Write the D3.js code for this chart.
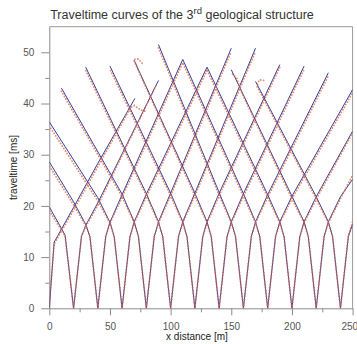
<!DOCTYPE html>
<html>
<head>
<meta charset="utf-8">
<script src="https://cdn.jsdelivr.net/npm/d3@7"></script>
<style>
  body { margin: 0; background: #fff; }
  svg { display: block; font-family: "Liberation Sans", Arial, sans-serif; }
  .axis path, .axis line { stroke: #8c8c8c; }
  .axis text { fill: #555; font-size: 10px; }
</style>
</head>
<body>
<div id="chart"></div>
<script>
// shot positions [m]
var shots = [0, 20, 40, 60, 80, 100, 120, 140, 160, 180, 200, 220, 240];

// computed traveltimes (blue), [x m, t ms] vertices, one list per shot
var modelLeft = [
  [[0, 0]],
  [[20, 0], [13, 14.3], [10, 15.6], [0, 19.8]],
  [[40, 0], [33.5, 14], [30, 16.4], [20, 20.8], [0, 28.6]],
  [[60, 0], [53.5, 14], [50, 16.8], [40, 21.6], [0, 36.4]],
  [[80, 0], [73.5, 14], [70, 16.9], [60, 22.3], [10, 43.0]],
  [[100, 0], [93.5, 14], [90, 16.9], [80, 22.4], [30, 47.1]],
  [[120, 0], [113.5, 14], [110, 16.9], [100, 22.5], [50, 47.3]],
  [[140, 0], [133.5, 14], [130, 16.9], [120, 22.5], [70, 48.4]],
  [[160, 0], [153.5, 14], [150, 16.9], [140, 22.6], [90, 51.5]],
  [[180, 0], [173.5, 14], [170, 16.9], [160, 22.4], [110, 48.6]],
  [[200, 0], [193.5, 14], [190, 16.9], [180, 22.2], [130, 47.1]],
  [[220, 0], [213.5, 14], [210, 16.9], [200, 21.9], [150, 46.6]],
  [[240, 0], [233.5, 14], [230, 16.9], [220, 21.8], [170, 44.3]]
];
var modelRight = [
  [[0, 0], [4, 12.9], [20, 19.7], [40, 28.3], [70.6, 41.0]],
  [[20, 0], [26.5, 14], [30, 16.2], [40, 20.6], [90, 44.5]],
  [[40, 0], [46.5, 14], [50, 16.8], [60, 22.2], [110, 48.6]],
  [[60, 0], [66.5, 14], [70, 16.9], [80, 22.3], [130, 47.1]],
  [[80, 0], [86.5, 14], [90, 16.9], [100, 22.5], [150, 50.8]],
  [[100, 0], [106.5, 14], [110, 16.9], [120, 22.5], [170, 50.8]],
  [[120, 0], [126.5, 14], [130, 16.9], [140, 22.5], [190, 47.6]],
  [[140, 0], [146.5, 14], [150, 16.9], [160, 22.4], [210, 47.3]],
  [[160, 0], [166.5, 14], [170, 16.9], [180, 22.2], [230, 46.0]],
  [[180, 0], [186.5, 14], [190, 16.9], [200, 21.9], [250, 42.7]],
  [[200, 0], [206.5, 14], [210, 16.9], [220, 21.8], [250, 34.6]],
  [[220, 0], [226.5, 14], [230, 16.9], [240, 21.8], [250, 25.2]],
  [[240, 0], [246.5, 14], [250, 16.4]]
];

// picked (measured) traveltimes (orange dots)
var pickLeft = [
  [],
  [[20, 0], [13, 14.1], [10, 15.3], [0, 19.1]],
  [[40, 0], [33.5, 14], [30, 16.2], [20, 20.2], [0, 27.8]],
  [[60, 0], [53.5, 14], [50, 16.6], [40, 21.0], [0, 35.6]],
  [[80, 0], [73.5, 14], [70, 16.7], [60, 21.8], [10, 42.4]],
  [[100, 0], [93.5, 14], [90, 16.7], [80, 22.0], [30, 46.5]],
  [[120, 0], [113.5, 14], [110, 16.7], [100, 22.0], [50, 46.7]],
  [[140, 0], [133.5, 14], [130, 16.7], [120, 22.0], [72, 47.2], [69.5, 48.6], [73.5, 48.7], [77.5, 47.6]],
  [[160, 0], [153.5, 14], [150, 16.7], [140, 22.1], [90, 50.9]],
  [[180, 0], [173.5, 14], [170, 16.7], [160, 21.9], [110, 48.0]],
  [[200, 0], [193.5, 14], [190, 16.7], [180, 21.7], [130, 46.5]],
  [[220, 0], [213.5, 14], [210, 16.7], [200, 21.4], [158, 42.4], [154.5, 44.9], [150.5, 45.9]],
  [[240, 0], [233.5, 14], [230, 16.7], [220, 21.4], [176, 41.2], [171, 43.4], [173, 44.6], [178, 44.5]]
];
var pickRight = [
  [[0, 0], [0.4, 2.3], [4, 12.6], [20, 19.2], [40, 27.7], [67, 39.2], [70, 39.6], [75, 38.8], [80.3, 38.4]],
  [[20, 0], [26.5, 14], [30, 16.0], [40, 20.1], [88.5, 43.8]],
  [[40, 0], [46.5, 14], [50, 16.6], [60, 21.7], [110, 48.0]],
  [[60, 0], [66.5, 14], [70, 16.7], [80, 21.8], [130, 46.5]],
  [[80, 0], [86.5, 14], [90, 16.7], [100, 22.0], [150, 50.2]],
  [[100, 0], [106.5, 14], [110, 16.7], [120, 22.0], [170, 50.2]],
  [[120, 0], [126.5, 14], [130, 16.7], [140, 22.0], [190, 47.1]],
  [[140, 0], [146.5, 14], [150, 16.7], [160, 21.9], [210, 46.7]],
  [[160, 0], [166.5, 14], [170, 16.7], [180, 21.7], [230, 45.4]],
  [[180, 0], [186.5, 14], [190, 16.7], [200, 21.4], [250, 42.1]],
  [[200, 0], [206.5, 14], [210, 16.7], [220, 21.3], [250, 34.3]],
  [[220, 0], [226.5, 14], [230, 16.7], [240, 21.4], [250, 26.0]],
  [[240, 0], [246.5, 14.2], [250, 16.9]]
];

var xTicks = [0, 50, 100, 150, 200, 250];
var xMinor = [25, 75, 125, 175, 225];
var yTicks = [0, 10, 20, 30, 40, 50];
var yMinor = [5, 15, 25, 35, 45];

var width = 357;
var height = 344;
var padding = { top: 26.7, right: 4.4, bottom: 35.7, left: 49.3 };

var svg = d3.select("#chart")
  .append("svg")
  .attr("width", width)
  .attr("height", height);

var xscale = d3.scaleLinear()
  .domain([0, 250])
  .range([padding.left, width - padding.right]);

var yscale = d3.scaleLinear()
  .domain([0, 55])
  .range([height - padding.bottom, padding.top]);

svg.append("clipPath").attr("id", "plot")
  .append("rect")
  .attr("x", padding.left)
  .attr("y", padding.top)
  .attr("width", width - padding.left - padding.right)
  .attr("height", height - padding.top - padding.bottom);

// frame (top and right)
svg.append("path")
  .attr("d", "M" + xscale(0) + "," + yscale(55) + "H" + xscale(250) + "V" + yscale(0))
  .attr("fill", "none")
  .attr("stroke", "#9a9a9a");

// axes
var xAxis = svg.append("g").attr("class", "axis")
  .attr("transform", "translate(0," + yscale(0) + ")")
  .call(d3.axisBottom(xscale).tickValues(xTicks).tickSize(7).tickPadding(8).tickSizeOuter(0));
// last label sits on the window edge, keep it inside
xAxis.selectAll(".tick text")
  .filter(function (d) { return d === 250; })
  .attr("text-anchor", "end")
  .attr("x", 5);
svg.append("g").attr("class", "axis")
  .attr("transform", "translate(0," + yscale(0) + ")")
  .call(d3.axisBottom(xscale).tickValues(xMinor).tickSize(4).tickFormat("").tickSizeOuter(0))
  .select(".domain").remove();

svg.append("g").attr("class", "axis")
  .attr("transform", "translate(" + xscale(0) + ",0)")
  .call(d3.axisLeft(yscale).tickValues(yTicks).tickSize(8).tickPadding(7).tickSizeOuter(0));
svg.append("g").attr("class", "axis")
  .attr("transform", "translate(" + xscale(0) + ",0)")
  .call(d3.axisLeft(yscale).tickValues(yMinor).tickSize(4).tickFormat("").tickSizeOuter(0))
  .select(".domain").remove();

var line = d3.line()
  .x(function (d) { return xscale(d[0]); })
  .y(function (d) { return yscale(d[1]); });

var plot = svg.append("g").attr("clip-path", "url(#plot)");

plot.selectAll(".model")
  .data(modelLeft.concat(modelRight).filter(function (d) { return d.length > 1; }))
  .enter().append("path")
  .attr("class", "model")
  .attr("d", line)
  .attr("fill", "none")
  .attr("stroke", "#33409e")
  .attr("stroke-width", 1)
  .attr("stroke-linejoin", "round");

// picks drawn over the computed curves
plot.selectAll(".pick")
  .data(pickLeft.concat(pickRight).filter(function (d) { return d.length > 1; }))
  .enter().append("path")
  .attr("class", "pick")
  .attr("d", line)
  .attr("fill", "none")
  .attr("stroke", "#d9623e")
  .attr("stroke-width", 1.9)
  .attr("stroke-linecap", "round")
  .attr("stroke-dasharray", "0 3")
  .attr("opacity", 0.75);

// title and axis labels
var title = svg.append("text")
  .attr("x", 182)
  .attr("y", 19)
  .attr("text-anchor", "middle")
  .style("font-size", "12.5px")
  .style("fill", "#333");
title.append("tspan").text("Traveltime curves of the 3");
title.append("tspan").attr("dy", -5).style("font-size", "9.5px").text("rd");
title.append("tspan").attr("dy", 5).text(" geological structure");

svg.append("text")
  .attr("x", (xscale(0) + xscale(250)) / 2 - 4)
  .attr("y", 340)
  .attr("text-anchor", "middle")
  .style("font-size", "10px")
  .style("fill", "#222")
  .text("x distance [m]");

svg.append("text")
  .attr("transform", "translate(17," + ((yscale(0) + yscale(55)) / 2) + ") rotate(-90)")
  .attr("text-anchor", "middle")
  .style("font-size", "10px")
  .style("fill", "#222")
  .text("traveltime [ms]");
</script>
</body>
</html>
